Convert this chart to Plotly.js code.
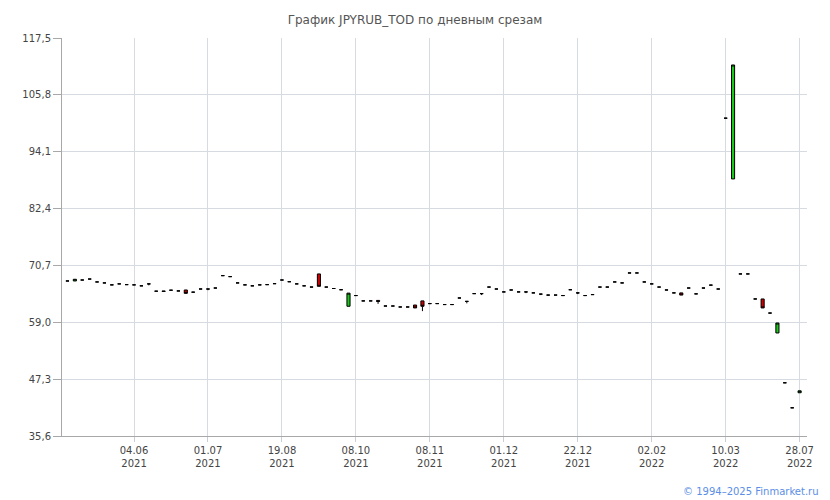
<!DOCTYPE html>
<html>
<head>
<meta charset="utf-8">
<script src="https://cdn.plot.ly/plotly-3.0.1.min.js"></script>
<style>html,body{margin:0;padding:0;background:#fff;}#chart{width:830px;height:500px;}</style>
</head>
<body>
<div id="chart"></div>
<script>
// Candle index positions (category slots, one per trading session)
const candleIndex = Array.from({length: 100}, (_, i) => i);

// Open values per candle
const openVals = [
 67.5, 67.5, 67.7, 67.9, 67.3, 67.1, 66.7, 66.9, 66.75, 66.7,
 66.5, 66.9, 65.4, 65.45, 65.6, 65.45, 65.65, 65.2, 65.85, 65.85,
 66.05, 68.6, 68.4, 67.1, 66.7, 66.5, 66.7, 66.75, 66.95, 67.7,
 67.35, 66.9, 66.5, 66.25, 68.95, 66.25, 65.95, 65.7, 62.3, 64.5,
 63.4, 63.4, 63.5, 62.35, 62.35, 62.15, 62.15, 62.55, 63.4, 62.85,
 62.85, 62.65, 62.65, 64.0, 63.3, 64.9, 64.9, 66.25, 65.85, 65.25,
 65.65, 65.25, 65.25, 65.05, 64.8, 64.6, 64.6, 64.5, 65.7, 65.05,
 64.5, 64.7, 66.25, 66.25, 67.3, 67.1, 69.15, 69.15, 67.3, 66.9,
 66.25, 65.65, 65.05, 65.05, 66.05, 64.85, 66.05, 66.65, 65.85, 101.0,
 88.5, 68.95, 68.95, 63.8, 63.8, 60.9, 56.8, 46.55, 41.4, 44.5
];
// Close values per candle
const closeVals = [
 67.5, 67.85, 67.7, 67.9, 67.3, 67.1, 66.7, 66.9, 66.75, 66.7,
 66.5, 66.9, 65.4, 65.35, 65.6, 65.45, 64.95, 65.2, 65.85, 65.85,
 66.05, 68.6, 68.4, 67.1, 66.7, 66.5, 66.7, 66.75, 66.95, 67.7,
 67.35, 66.9, 66.5, 66.25, 66.4, 66.25, 65.95, 65.7, 65.0, 64.5,
 63.4, 63.4, 63.3, 62.35, 62.35, 62.15, 62.15, 61.95, 62.3, 62.85,
 62.85, 62.65, 62.65, 64.0, 63.3, 64.9, 64.9, 66.25, 65.85, 65.25,
 65.65, 65.25, 65.25, 65.05, 64.8, 64.6, 64.6, 64.5, 65.7, 65.05,
 64.5, 64.7, 66.25, 66.25, 67.3, 67.1, 69.15, 69.15, 67.3, 66.9,
 66.25, 65.65, 65.05, 64.6, 66.05, 64.85, 66.05, 66.65, 65.85, 101.0,
 111.95, 68.95, 68.95, 63.8, 61.95, 60.9, 58.85, 46.55, 41.4, 44.9
];
// Lowest values where a lower shadow is visible (null = body bottom)
const lowShadow = [
 null, null, null, null, null, null, null, null, null, null,
 null, 66.6, null, null, null, null, null, null, null, 65.6,
 null, null, null, null, null, null, null, null, null, null,
 null, null, null, null, null, null, null, null, null, null,
 null, null, 62.8, null, null, null, null, null, 61.3, null,
 null, null, null, null, 62.9, null, 64.6, null, null, null,
 null, null, 65.0, null, 64.6, 64.4, null, null, null, 64.8,
 null, null, null, null, null, null, null, null, null, null,
 null, null, null, null, null, null, null, null, null, null,
 null, null, null, null, null, null, null, null, null, null
];

// X tick labels
const tickIndex = [9, 19, 29, 39, 49, 59, 69, 79, 89, 99];
const tickLabels = ["04.06<br>2021", "01.07<br>2021", "19.08<br>2021", "08.10<br>2021", "08.11<br>2021",
                    "01.12<br>2021", "22.12<br>2021", "02.02<br>2022", "10.03<br>2022", "28.07<br>2022"];
// Y tick labels
const yTickVals = [35.6, 47.3, 59.0, 70.7, 82.4, 94.1, 105.8, 117.5];
const yTickText = ["35,6", "47,3", "59,0", "70,7", "82,4", "94,1", "105,8", "117,5"];

const highVals = openVals.map((o, i) => Math.max(o, closeVals[i]));
const lowVals = openVals.map((o, i) => lowShadow[i] !== null ? lowShadow[i] : Math.min(o, closeVals[i]));

const trace = {
  type: 'candlestick',
  x: candleIndex,
  open: openVals,
  high: highVals,
  low: lowVals,
  close: closeVals,
  increasing: {line: {color: '#000000', width: 1}, fillcolor: '#19c819'},
  decreasing: {line: {color: '#000000', width: 1}, fillcolor: '#cc0000'},
  whiskerwidth: 0,
  hoverinfo: 'skip',
  showlegend: false
};

const layout = {
  width: 830, height: 500,
  margin: {l: 62, r: 23, t: 38, b: 64},
  paper_bgcolor: '#ffffff', plot_bgcolor: '#ffffff',
  font: {family: 'DejaVu Sans, Verdana, sans-serif', size: 10, color: '#444444'},
  title: {text: 'График JPYRUB_TOD по дневным срезам', x: 0.5, xref: 'container', xanchor: 'center',
          y: 0.96, yref: 'container', yanchor: 'middle',
          font: {family: 'DejaVu Sans, Verdana, sans-serif', size: 12, color: '#555555'}},
  boxgap: 0.4,
  xaxis: {
    type: 'linear', range: [-0.74, 100.0],
    tickmode: 'array', tickvals: tickIndex, ticktext: tickLabels,
    showgrid: true, gridcolor: '#d5dbe0', gridwidth: 1,
    showline: true, linecolor: '#a8a8a8', linewidth: 1,
    ticks: 'outside', ticklen: 5, tickcolor: '#c8ced3',
    zeroline: false, rangeslider: {visible: false},
    tickfont: {size: 10, color: '#444444'}
  },
  yaxis: {
    range: [35.6, 117.5], tickmode: 'array', tickvals: yTickVals, ticktext: yTickText,
    showgrid: true, gridcolor: '#d5dbe0', gridwidth: 1,
    showline: true, linecolor: '#a8a8a8', linewidth: 1,
    ticks: 'outside', ticklen: 8, tickcolor: '#a8a8a8',
    zeroline: false, tickfont: {size: 10, color: '#444444'}
  },
  annotations: [{
    text: '© 1994–2025 Finmarket.ru', xref: 'paper', yref: 'paper',
    x: 1.019, y: -0.139, xanchor: 'right', yanchor: 'middle', showarrow: false,
    font: {family: 'DejaVu Sans, Verdana, sans-serif', size: 10, color: '#5b8ee6'}
  }]
};

Plotly.newPlot('chart', [trace], layout, {staticPlot: true, displayModeBar: false});
</script>
</body>
</html>
